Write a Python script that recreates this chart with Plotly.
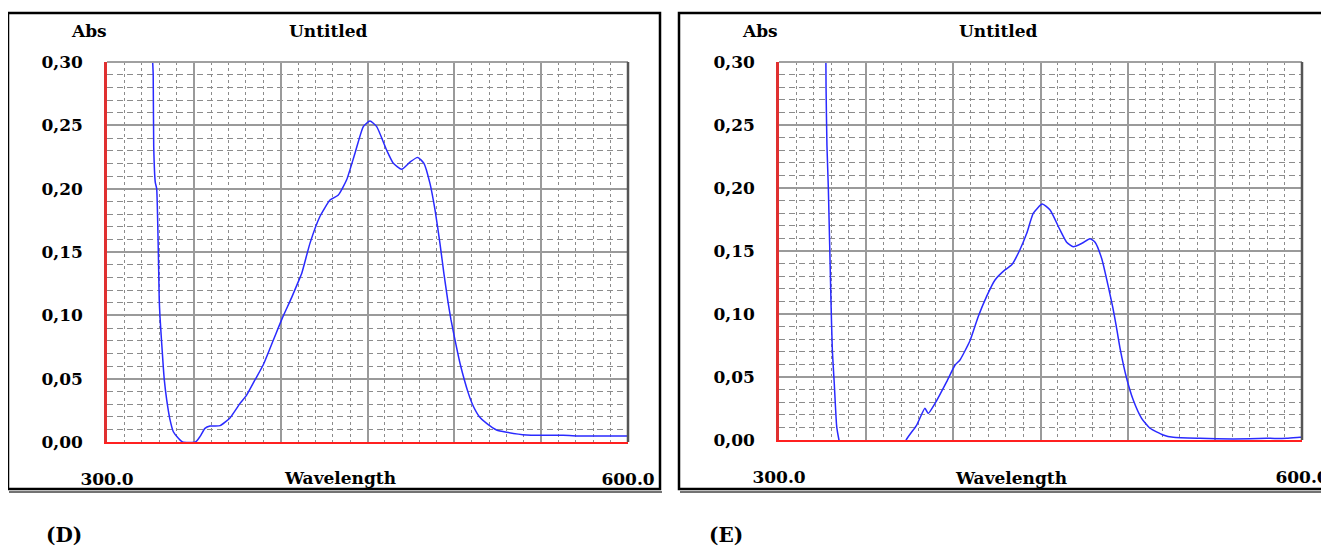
import plotly.graph_objects as go

# spectrum (D)
wl_d = [326.3, 326.6, 326.9, 327.8, 328.6, 330.1, 330.5, 332.4, 333.0, 334.4, 336.3, 338.2,
        341.1, 343.5, 351.0, 353.5, 356.4, 359.3, 365.1, 370.8, 376.6, 380.4, 385.2, 390.0,
        395.8, 401.0, 406.3, 410.6, 412.1, 416.9, 422.6, 428.4, 433.2, 438.0, 442.8, 447.6,
        451.4, 455.3, 461.0, 464.9, 469.7, 474.5, 478.9, 482.5, 486.0, 488.9, 491.7, 494.0,
        496.2, 498.0, 500.4, 503.3, 508.1, 511.0, 514.4, 518.6, 524.3, 530.1, 541.6, 562.7,
        574.3, 600.0]
abs_d = [0.300, 0.290, 0.233, 0.205, 0.200, 0.112, 0.099, 0.0595, 0.049, 0.033, 0.0174, 0.0081,
         0.0029, 0.0, 0.0, 0.0042, 0.0108, 0.0126, 0.0129, 0.0190, 0.0305, 0.037, 0.049, 0.061,
         0.0805, 0.098, 0.114, 0.128, 0.133, 0.157, 0.178, 0.191, 0.195, 0.207, 0.228, 0.249,
         0.2534, 0.249, 0.2305, 0.220, 0.2153, 0.221, 0.2247, 0.220, 0.204, 0.183, 0.157, 0.133,
         0.112, 0.097, 0.0805, 0.062, 0.0384, 0.028, 0.020, 0.0147, 0.0095, 0.0077, 0.0055, 0.0053,
         0.0047, 0.0047]

# spectrum (E)
wl_e = [326.9, 327.0, 327.5, 328.3, 329.8, 330.6, 331.7, 333.1, 334.4, 336.0, 371.0, 372.9,
        379.0, 383.7, 385.6, 389.5, 396.2, 401.0, 403.8, 409.6, 414.3, 419.1, 423.9, 429.6,
        433.5, 438.2, 442.1, 445.9, 451.0, 455.5, 461.2, 465.0, 468.8, 473.6, 478.4, 481.3,
        485.1, 488.9, 491.5, 493.5, 495.6, 499.4, 503.2, 508.0, 512.8, 520.4, 526.2, 541.5,
        560.6, 579.8, 591.2, 598.9, 600.0]
abs_e = [0.300, 0.279, 0.234, 0.200, 0.111, 0.071, 0.045, 0.0106, 0.0, -0.01, -0.01, 0.0,
         0.0119, 0.0251, 0.021, 0.029, 0.0463, 0.0595, 0.0635, 0.079, 0.098, 0.114, 0.127, 0.135,
         0.139, 0.151, 0.164, 0.180, 0.1873, 0.1825, 0.1667, 0.157, 0.1534, 0.156, 0.1598, 0.157,
         0.144, 0.1217, 0.105, 0.090, 0.073, 0.049, 0.0317, 0.0172, 0.0093, 0.004, 0.0021, 0.0013,
         0.0008, 0.0013, 0.0013, 0.0021, 0.0022]

y_ticks = [0.0, 0.05, 0.10, 0.15, 0.20, 0.25, 0.30]
y_labels = ["0,00", "0,05", "0,10", "0,15", "0,20", "0,25", "0,30"]
x_ticks = [300, 350, 400, 450, 500, 550, 600]
x_labels = ["300.0", "", "", "", "", "", "600.0"]

# page body adds an 8px margin, so the figure is a bit smaller and shifted
OFF = 8
W, H = 1329 - OFF, 546 - OFF
FONT = dict(family="DejaVu Serif", size=17, color="black", weight="bold")
GRID = "#9a9a9a"
MINOR = "#8c8c8c"


def px(x):
    return (x - OFF) / W


def py(y):
    return 1 - (y - OFF) / H


def xaxis(dom):
    return dict(domain=dom, range=[300, 600], tickmode="array", tickvals=x_ticks, ticktext=x_labels,
                showgrid=True, gridcolor=GRID, gridwidth=1.5, zeroline=False,
                minor=dict(dtick=10, tick0=300, showgrid=True, gridcolor=MINOR, gridwidth=1,
                           griddash="3px,3px"),
                showline=True, linecolor="#ff2020", linewidth=2, ticks="",
                ticklabelstandoff=21, tickfont=FONT, automargin=False, fixedrange=True)


def yaxis(dom, anchor):
    return dict(domain=dom, range=[0, 0.30], anchor=anchor, tickmode="array", tickvals=y_ticks,
                ticktext=y_labels, showgrid=True, gridcolor=GRID, gridwidth=1.5, zeroline=False,
                minor=dict(dtick=0.01, tick0=0, showgrid=True, gridcolor=MINOR, gridwidth=1,
                           griddash="6px,4px"),
                showline=True, linecolor="#e03030", linewidth=2.5, ticks="",
                ticklabelstandoff=18, tickfont=FONT, automargin=False, fixedrange=True)


fig = go.Figure()
fig.add_trace(go.Scatter(x=wl_d, y=abs_d, mode="lines",
                         line=dict(color="#2a2aff", width=1.5, shape="spline", smoothing=0.5),
                         xaxis="x", yaxis="y", showlegend=False))
fig.add_trace(go.Scatter(x=wl_e, y=abs_e, mode="lines",
                         line=dict(color="#2a2aff", width=1.5, shape="spline", smoothing=0.5),
                         xaxis="x2", yaxis="y2", showlegend=False))

fig.update_layout(
    width=W, height=H, margin=dict(l=0, r=0, t=0, b=0),
    paper_bgcolor="white", plot_bgcolor="white", showlegend=False,
    xaxis=xaxis([px(107), px(628)]),
    yaxis=yaxis([py(442), py(62)], "x"),
    xaxis2=xaxis([px(779), px(1302)]),
    yaxis2=yaxis([py(440), py(62)], "x2"),
)
fig.layout.xaxis2.anchor = "y2"
fig.layout.xaxis.anchor = "y"

shapes = []
# outer frames
for x0, x1 in [(8, 660), (679, 1345)]:
    shapes.append(dict(type="rect", xref="paper", yref="paper", x0=px(x0), x1=px(x1),
                       y0=py(489), y1=py(13), line=dict(color="black", width=2.5)))
    shapes.append(dict(type="line", xref="paper", yref="paper", x0=px(x0 + 1), x1=px(x1 + 2),
                       y0=py(492), y1=py(492), line=dict(color="#444", width=1.5)))
# top and right borders of plot areas
for xr, yr in [("x domain", "y domain"), ("x2 domain", "y2 domain")]:
    shapes.append(dict(type="line", xref=xr, yref=yr, x0=0, x1=1, y0=1, y1=1,
                       line=dict(color="#a0a0a0", width=2)))
    shapes.append(dict(type="line", xref=xr, yref=yr, x0=1, x1=1, y0=0, y1=1,
                       line=dict(color="#555", width=2.5)))
fig.update_layout(shapes=shapes)

ann = []
for off, lab, lx in [(0, "(D)", 64), (671, "(E)", 726)]:
    ann.append(dict(text="Abs", x=px(89 + off), y=py(31), xref="paper", yref="paper",
                    showarrow=False, font=FONT, xanchor="center", yanchor="middle"))
    ann.append(dict(text="Untitled", x=px(328 + off), y=py(31), xref="paper", yref="paper",
                    showarrow=False, font=FONT, xanchor="center", yanchor="middle"))
    ann.append(dict(text="Wavelength", x=px(340 + off), y=py(478), xref="paper", yref="paper",
                    showarrow=False, font=FONT, xanchor="center", yanchor="middle"))
    ann.append(dict(text=lab, x=px(lx), y=py(535), xref="paper", yref="paper",
                    showarrow=False, font=dict(family="DejaVu Serif", size=20, color="black",
                                               weight="bold"),
                    xanchor="center", yanchor="middle"))
fig.update_layout(annotations=ann)

fig.write_html("out.html")
